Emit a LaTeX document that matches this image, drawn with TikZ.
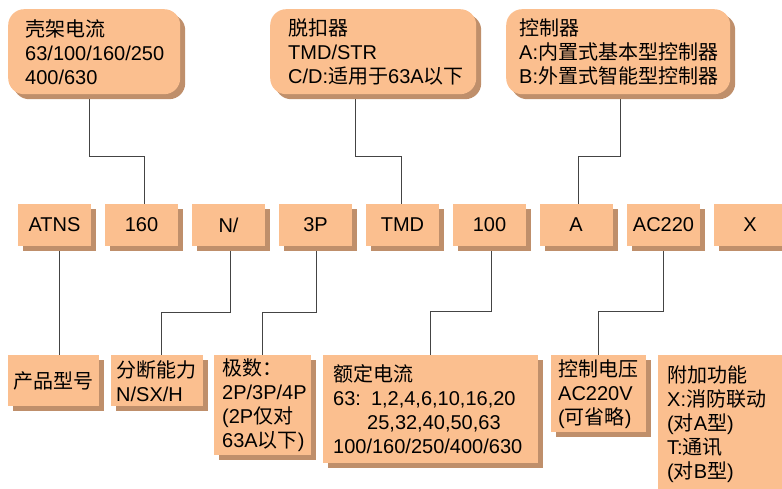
\documentclass[tikz,border=0pt]{standalone}
\usepackage{fontspec}
\setmainfont{Liberation Sans}
\newfontfamily\cjk{Noto Sans CJK SC}
\newcommand{\zh}[1]{{\cjk #1}}
\usetikzlibrary{shadows,backgrounds}
\definecolor{boxfill}{HTML}{FBBF8F}
\definecolor{boxshade}{HTML}{BF8F6B}
\definecolor{linkgray}{HTML}{444444}
\tikzset{
    part/.style={fill=boxfill, drop shadow={shadow xshift=5pt, shadow yshift=-5pt, fill=boxshade, opacity=1}, font=\fontsize{20}{24}\selectfont},
    % group boxes on top
    group/.style={part, rounded corners=16pt, anchor=north west, align=left, minimum height=85pt},
    % code boxes in the middle row
    code/.style={part, minimum width=73pt, minimum height=42pt},
    % notes at the bottom
    note/.style={part, anchor=north west, align=left},
    link/.style={draw=linkgray, line width=0.9pt}
}

\begin{document}
\begin{tikzpicture}[x=1pt, y=-1pt]
    \useasboundingbox (0,0) rectangle (782,489);

    % Top groups
    \node[group, minimum width=172pt, inner xsep=17pt, text width=138pt] (shell) at (8,9) {\zh{壳架电流}\\63/100/160/250\\400/630};
    \node[group, minimum width=206pt, inner xsep=18pt, text width=170pt] (release) at (270,9) {\zh{脱扣器}\\TMD/STR\\C/D:\zh{适用于}63A\zh{以下}};
    \node[group, minimum width=224pt, inner xsep=13pt, text width=198pt] (ctrl) at (506,9) {\zh{控制器}\\A:\zh{内置式基本型控制器}\\B:\zh{外置式智能型控制器}};

    % Type code
    \node[code] (atns) at (54.5,225) {ATNS};
    \node[code] (frame) at (141.5,225) {160};
    \node[code] (breaking) at (228.5,225) {N/};
    \node[code] (poles) at (315.5,225) {3P};
    \node[code] (tmd) at (402.5,225) {TMD};
    \node[code] (amps) at (489.5,225) {100};
    \node[code] (ctype) at (576,225) {A};
    \node[code] (volt) at (663.5,225) {AC220};
    \node[code] (extra) at (750,225) {X};

    % Bottom notes
    \node[note, minimum width=91pt, minimum height=51pt, align=center] (namebox) at (8,355) {\zh{产品型号}};
    \node[note, minimum width=92pt, minimum height=51pt, inner xsep=5pt, text width=82pt] (breakbox) at (111,355) {\zh{分断能力}\\N/SX/H};
    \node[note, minimum width=97pt, minimum height=97pt, inner xsep=8pt, text width=81pt] (polebox) at (214,355) {\zh{极数：}\\2P/3P/4P\\(2P\zh{仅对}\\63A\zh{以下})};
    \node[note, minimum width=215pt, minimum height=108pt, inner xsep=10pt, text width=195pt] (ratebox) at (323,355) {\zh{额定电流}\\63: 1,2,4,6,10,16,20\\\hspace*{34pt}25,32,40,50,63\\100/160/250/400/630};
    \node[note, minimum width=95pt, minimum height=77pt, inner xsep=7pt, text width=81pt] (voltbox) at (551,355) {\zh{控制电压}\\AC220V\\(\zh{可省略})};
    \node[note, minimum width=130pt, minimum height=137pt, inner xsep=9pt, text width=112pt] (extrabox) at (658,355) {\zh{附加功能}\\X:\zh{消防联动}\\(\zh{对}A\zh{型})\\T:\zh{通讯}\\(\zh{对}B\zh{型})};

    % Connectors behind the boxes
    \begin{scope}[on background layer]
        \draw[link] ([xshift=-5pt]shell.south) -- ++(0,62) -| ([xshift=2.5pt]frame.north);
        \draw[link] ([xshift=-18pt]release.south) -- ++(0,62) -| ([xshift=-1.5pt]tmd.north);
        \draw[link] ([xshift=2pt]ctrl.south) -- ++(0,62) -| ([xshift=2.5pt]ctype.north);
        \draw[link] ([xshift=4.5pt]atns.south) -- ([xshift=4.5pt]atns.south |- namebox.north);
        \draw[link] ([xshift=1.5pt]breaking.south) -- ++(0,66) -| ([xshift=4pt]breakbox.north);
        \draw[link] ([xshift=0.5pt]poles.south) -- ++(0,66) -| (polebox.north);
        \draw[link] ([xshift=1.5pt]amps.south) -- ++(0,65) -| (ratebox.north);
        \draw[link] (volt.south) -- ++(0,65) -| (voltbox.north);
    \end{scope}
\end{tikzpicture}
\end{document}
